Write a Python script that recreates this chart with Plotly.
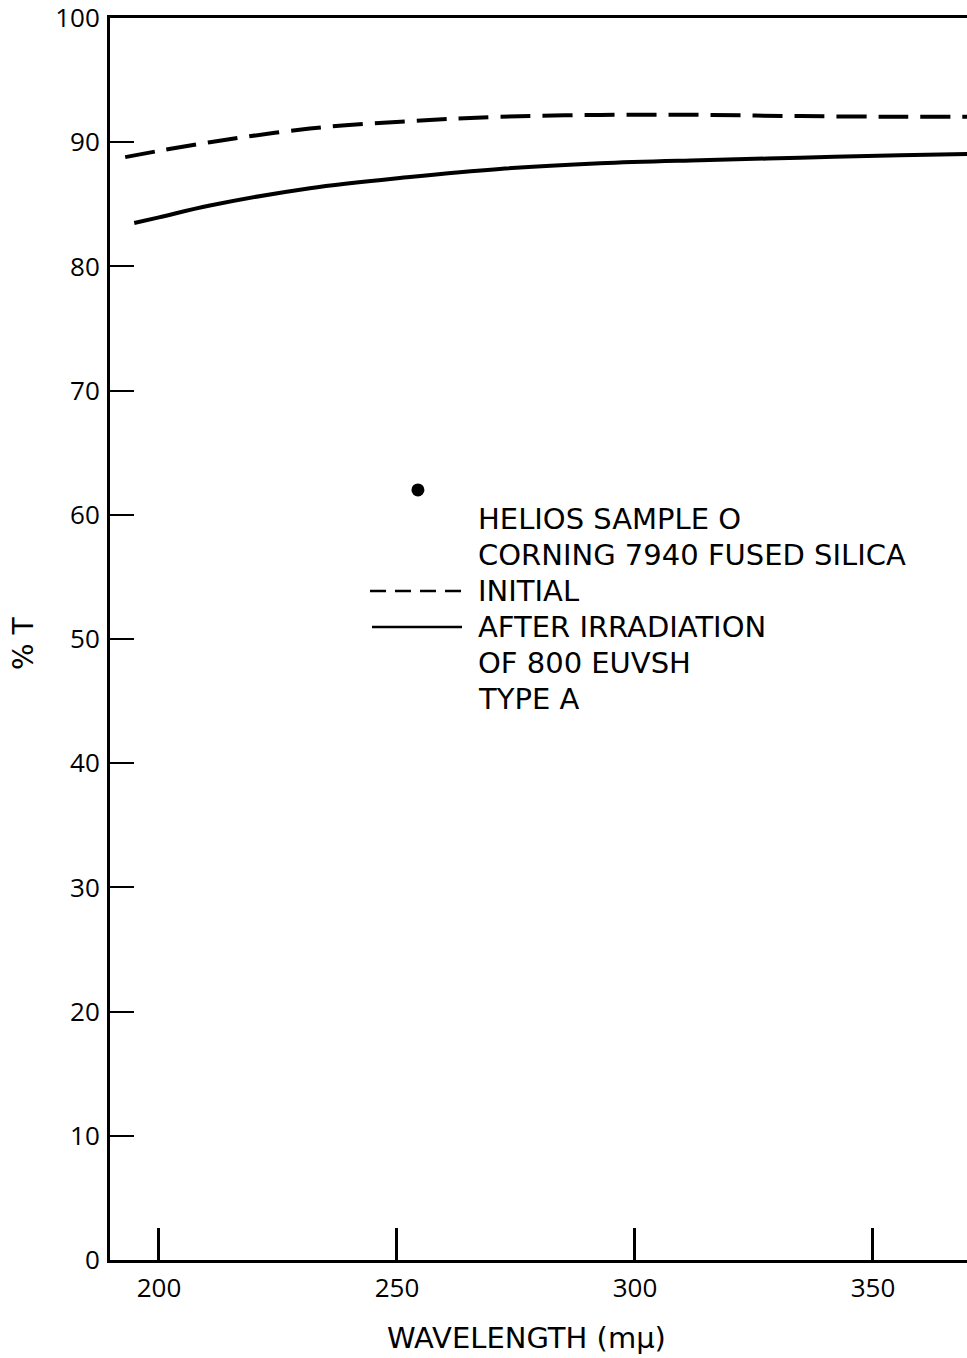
import plotly.graph_objects as go

# Data
wavelength_initial = [192.9, 200, 210.7, 231.7, 252.7, 271.6, 292.7, 313.7, 334.7, 355.7, 370]
t_initial = [88.8, 89.3, 90.0, 91.1, 91.7, 92.05, 92.2, 92.2, 92.1, 92.05, 92.05]

wavelength_after = [194.8, 200, 210.7, 231.7, 252.7, 271.6, 292.7, 313.7, 334.7, 355.7, 370]
t_after = [83.5, 83.95, 84.9, 86.3, 87.2, 87.85, 88.3, 88.55, 88.75, 88.95, 89.05]

dot_wavelength = [254.4]
dot_t = [62.0]

x_ticks = [200, 250, 300, 350]
y_ticks = [0, 10, 20, 30, 40, 50, 60, 70, 80, 90, 100]

legend_lines = ["HELIOS SAMPLE O", "CORNING 7940 FUSED SILICA", "INITIAL",
                "AFTER IRRADIATION", "OF 800 EUVSH", "TYPE A"]
x_title = "WAVELENGTH (mμ)"
y_title = "% T"

FONT = "Open Sans"
TFONT = "DejaVu Sans"
W, H = 967, 1358
ML, MT, MB, MR = 110, 18, 98, 0
X0, X1 = 189.71, 369.75

fig = go.Figure()
fig.add_trace(go.Scatter(x=wavelength_initial, y=t_initial, mode="lines",
                         line=dict(color="black", width=4, dash="30px,12px", shape="spline"),
                         showlegend=False))
fig.add_trace(go.Scatter(x=wavelength_after, y=t_after, mode="lines",
                         line=dict(color="black", width=4, shape="spline"),
                         showlegend=False))
fig.add_trace(go.Scatter(x=dot_wavelength, y=dot_t, mode="markers",
                         marker=dict(color="black", size=13), showlegend=False))

# helpers: pixel -> paper coords
pw = W - ML - MR
ph = H - MT - MB
def px(x):
    return (x - ML) / pw
def py(y):
    return 1 - (y - MT) / ph

line_y = [519, 555, 591, 627, 663, 699]
for txt, yy in zip(legend_lines, line_y):
    fig.add_annotation(x=px(476), y=py(yy), xref="paper", yref="paper",
                       text=txt, showarrow=False, xanchor="left", yanchor="middle",
                       font=dict(family=TFONT, size=29, color="black"))

fig.add_annotation(x=px(526), y=py(1338), xref="paper", yref="paper",
                   text=x_title, showarrow=False, xanchor="center", yanchor="middle",
                   font=dict(family=TFONT, size=29, color="black"))

fig.add_annotation(x=px(23), y=py(643), xref="paper", yref="paper",
                   text=y_title, showarrow=False, xanchor="center", yanchor="middle",
                   textangle=-90, font=dict(family=TFONT, size=28, color="black"))

fig.add_shape(type="line", xref="paper", yref="paper",
              x0=px(370), x1=px(462), y0=py(591), y1=py(591),
              line=dict(color="black", width=2.5, dash="16px,9px"))
fig.add_shape(type="line", xref="paper", yref="paper",
              x0=px(372), x1=px(462), y0=py(627), y1=py(627),
              line=dict(color="black", width=2.5))

fig.update_layout(
    width=W, height=H,
    margin=dict(l=ML, r=MR, t=MT, b=MB),
    paper_bgcolor="white", plot_bgcolor="white",
    font=dict(family=FONT, color="black", size=26),
    xaxis=dict(range=[X0, X1], tickvals=x_ticks, ticks="inside", ticklen=32, tickwidth=3,
               tickcolor="black", showline=True, linecolor="black", linewidth=3,
               mirror=True, showgrid=False, zeroline=False,
               tickfont=dict(size=26, family=FONT), ticklabelstandoff=3,
               ticklabeloverflow="allow"),
    yaxis=dict(range=[0, 100], tickvals=y_ticks, ticks="inside", ticklen=24, tickwidth=2,
               tickcolor="black", showline=True, linecolor="black", linewidth=3,
               showgrid=False, zeroline=False, ticklabeloverflow="allow",
               tickfont=dict(size=26, family=FONT), ticklabelstandoff=2),
)

fig.write_html("out.html")
